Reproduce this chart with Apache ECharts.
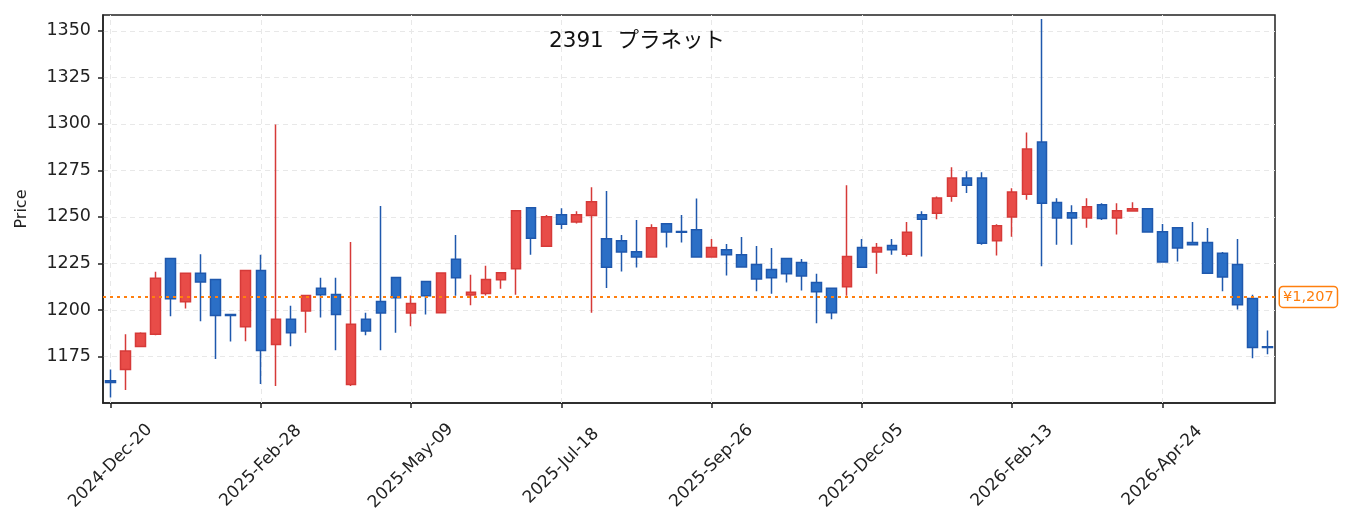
<!DOCTYPE html>
<html>
<head>
    <meta charset="utf-8">
    <title>2391 プラネット</title>
    <script src="https://cdn.jsdelivr.net/npm/echarts@6/dist/echarts.min.js"></script>
    <style>
        html, body { margin: 0; padding: 0; background: #fff; }
        #main { width: 1353px; height: 531px; }
    </style>
</head>
<body>
<div id="main"></div>
<script>
    // 週足 (2024-12-20 から 78 本)
    var startDate = '2024-12-20';
    var weekCount = 78;
    var opens = [1162, 1168, 1180.3, 1187, 1227.6, 1204.4, 1219.7, 1216.4, 1197.6, 1191,
        1221.2, 1181.4, 1195, 1199.4, 1211.7, 1208.3, 1160, 1195, 1204.6, 1217.4,
        1198.4, 1215.3, 1198.5, 1227.3, 1208, 1208.9, 1216.2, 1222.1, 1254.9, 1234.2,
        1251.2, 1247.3, 1250.8, 1238.3, 1237.2, 1231.3, 1228.5, 1246.3, 1242.2, 1243.1,
        1228.5, 1232.4, 1229.7, 1224.4, 1221.7, 1227.6, 1225.5, 1214.8, 1211.7, 1212.5,
        1233.5, 1231.2, 1234.6, 1230, 1251.2, 1252, 1261.1, 1270.9, 1270.9, 1237.2,
        1250, 1262.2, 1290.2, 1257.8, 1252.2, 1249.4, 1256.5, 1249.4, 1253.2, 1254.4,
        1242, 1244.2, 1236.3, 1236.3, 1230.5, 1224.4, 1206.2, 1180.2];
    var closes = [1161, 1178, 1187.5, 1217, 1206, 1219.7, 1215, 1197, 1197, 1221.2,
        1178.2, 1195, 1187.7, 1207.8, 1208.2, 1197.5, 1192.3, 1188.7, 1198.4, 1206.6,
        1203.5, 1207.6, 1219.9, 1217.3, 1209.5, 1216.4, 1220, 1253.3, 1238.5, 1250.1,
        1246, 1251.2, 1258.1, 1223, 1231.2, 1228.5, 1244.2, 1241.9, 1241.7, 1228.5,
        1233.5, 1229.6, 1223.1, 1216.7, 1217.3, 1219.4, 1218.2, 1209.8, 1198.5, 1228.7,
        1223, 1233.5, 1232.3, 1241.7, 1248.7, 1260.2, 1270.9, 1267, 1235.8, 1245.2,
        1263.4, 1286.5, 1257.4, 1249.4, 1249.4, 1255.4, 1249.2, 1253.3, 1254.4, 1241.9,
        1225.8, 1233.3, 1235.1, 1219.7, 1217.7, 1202.8, 1179.8, 1179.8];
    var lows = [1153, 1157, 1180, 1186.4, 1196.6, 1200.8, 1193.9, 1173.6, 1183, 1183.2,
        1160.2, 1159.1, 1180.5, 1187.8, 1196, 1178.4, 1159.1, 1186.4, 1178.4, 1187.8,
        1191.2, 1197.6, 1198.5, 1207.6, 1202.5, 1207.8, 1211.4, 1208.2, 1229.7, 1234.2,
        1243.5, 1246.5, 1198.5, 1211.8, 1220.6, 1222.8, 1228.5, 1233.5, 1236.2, 1228.5,
        1228.5, 1218.5, 1223.1, 1210, 1208.7, 1214.8, 1210.5, 1192.8, 1195, 1207.6,
        1223, 1219.4, 1229.6, 1228.7, 1228.7, 1248.8, 1258.1, 1262.9, 1235, 1229.2,
        1239.4, 1259.2, 1223.5, 1235, 1235, 1244.2, 1248.3, 1240.5, 1253.2, 1241.9,
        1225.8, 1226, 1235.1, 1219.7, 1210, 1200.3, 1174.1, 1176.2];
    var highs = [1168, 1187, 1188, 1220.5, 1227.6, 1220, 1230, 1216.4, 1197.6, 1221.2,
        1229.6, 1299.7, 1202.3, 1208, 1217.3, 1217.3, 1236.5, 1198.5, 1255.8, 1217.5,
        1207.8, 1215.3, 1219.9, 1240.3, 1218.9, 1223.7, 1220, 1253.3, 1254.9, 1251,
        1254.7, 1253.1, 1266, 1263.9, 1240.3, 1248.3, 1246, 1246.3, 1251, 1259.9,
        1238.1, 1235.5, 1239.2, 1234.4, 1233.3, 1227.6, 1227.4, 1219.4, 1211.7, 1267,
        1238.1, 1236, 1238.1, 1247.2, 1253.1, 1261, 1276.7, 1274.5, 1274, 1246,
        1265.4, 1295.4, 1356.4, 1260, 1256.3, 1260, 1257.4, 1257.4, 1257.9, 1254.4,
        1246.2, 1244.2, 1247.2, 1244, 1231.2, 1238.1, 1208.2, 1188.9];
    var refPrice = 1207;
    var yTicks = [1175, 1200, 1225, 1250, 1275, 1300, 1325, 1350];

    var monthNames = ['Jan', 'Feb', 'Mar', 'Apr', 'May', 'Jun', 'Jul', 'Aug', 'Sep', 'Oct', 'Nov', 'Dec'];
    function pad(n) { return n < 10 ? '0' + n : '' + n; }

    var dates = [];
    var d0 = new Date(startDate + 'T00:00:00Z');
    for (var i = 0; i < weekCount; i++) {
        var d = new Date(d0.getTime() + i * 7 * 86400000);
        dates.push(d.getUTCFullYear() + '-' + monthNames[d.getUTCMonth()] + '-' + pad(d.getUTCDate()));
    }

    var ohlc = [];
    for (var k = 0; k < opens.length; k++) {
        ohlc.push([opens[k], closes[k], lows[k], highs[k]]);
    }

    // 縦のグリッド線 (10 週ごと)
    var vLines = [];
    for (var j = 0; j < dates.length; j += 10) {
        vLines.push({xAxis: dates[j]});
    }
    var emptyLine = dates.map(function () { return '-'; });

    var font = '"DejaVu Sans", "Noto Sans CJK JP", sans-serif';

    var myChart = echarts.init(document.getElementById('main'), null, {renderer: 'canvas'});

    var option = {
        animation: false,
        backgroundColor: '#fff',
        textStyle: {fontFamily: font},
        title: {
            text: '2391  プラネット',
            left: 632,
            top: 26,
            textAlign: 'center',
            textStyle: {fontFamily: font, fontSize: 21.5, fontWeight: 'normal', color: '#111'}
        },
        grid: {
            left: 103,
            right: 78,
            top: 15,
            bottom: 128,
            show: true,
            borderColor: '#222',
            borderWidth: 1.5,
            backgroundColor: 'transparent'
        },
        xAxis: {
            type: 'category',
            data: dates,
            boundaryGap: true,
            axisLine: {show: true, lineStyle: {color: '#222', width: 1.5}},
            axisTick: {show: true, alignWithLabel: true, interval: 9, length: 5, lineStyle: {color: '#222', width: 1.5}},
            axisLabel: {
                interval: 9,
                rotate: 45,
                margin: 63,
                align: 'center',
                verticalAlign: 'middle',
                fontSize: 17,
                color: '#222',
                fontFamily: font
            },
            splitLine: {show: false}
        },
        yAxis: {
            type: 'value',
            min: 1150,
            max: 1358.5,
            interval: 25,
            name: 'Price',
            nameLocation: 'middle',
            nameGap: 73,
            nameTextStyle: {fontSize: 16, color: '#222', fontFamily: font},
            axisLine: {show: true, lineStyle: {color: '#222', width: 1.5}},
            axisTick: {show: true, length: 5, customValues: yTicks, lineStyle: {color: '#222', width: 1.5}},
            axisLabel: {
                fontSize: 17.5,
                color: '#222',
                margin: 12,
                fontFamily: font,
                customValues: yTicks,
                formatter: function (v) {
                    return yTicks.indexOf(v) >= 0 ? String(v) : '';
                }
            },
            splitLine: {show: true, lineStyle: {color: '#e8e8e8', type: [5, 4], width: 1}}
        },
        series: [
            {
                name: 'grid',
                type: 'line',
                data: emptyLine,
                showSymbol: false,
                silent: true,
                z: 1,
                markLine: {
                    silent: true,
                    symbol: 'none',
                    z: 1,
                    label: {show: false},
                    lineStyle: {color: '#e8e8e8', type: [5, 4], width: 1},
                    data: vLines
                }
            },
            {
                name: '2391',
                type: 'candlestick',
                data: ohlc,
                barWidth: 10,
                z: 3,
                itemStyle: {
                    color: '#e84c48',
                    color0: '#2b6fc6',
                    borderColor: '#d63a38',
                    borderColor0: '#1f58ad',
                    borderWidth: 1.5
                },
                markLine: {
                    silent: true,
                    symbol: 'none',
                    z: 5,
                    data: [{yAxis: refPrice}],
                    lineStyle: {color: '#ff7f0e', type: [3, 4], width: 2},
                    label: {
                        show: true,
                        position: 'end',
                        distance: 5,
                        formatter: '¥1,207',
                        color: '#ff7f0e',
                        fontSize: 14.5,
                        fontFamily: font,
                        backgroundColor: '#fff',
                        borderColor: '#ff7f0e',
                        borderWidth: 1.5,
                        borderRadius: 3,
                        padding: [3, 3, 2, 3]
                    }
                }
            }
        ]
    };

    myChart.setOption(option);
    window.addEventListener('resize', myChart.resize);
</script>
</body>
</html>
